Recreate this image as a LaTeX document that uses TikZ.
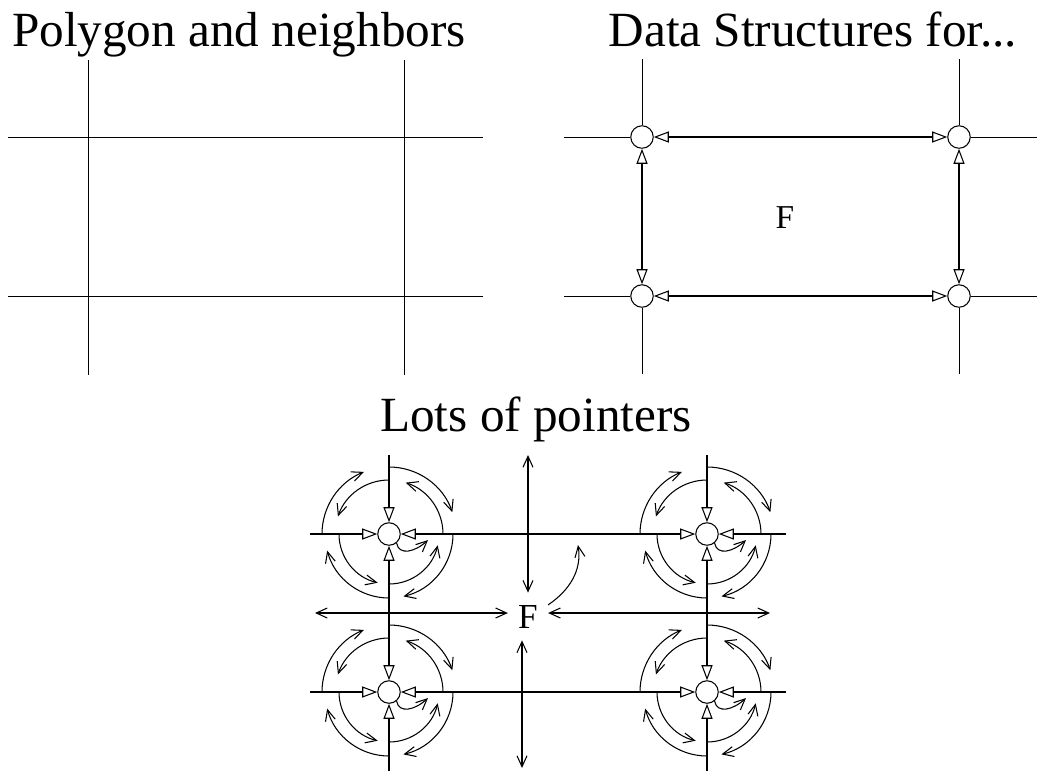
\documentclass[tikz,border=0pt]{standalone}
\usepackage{fontspec}
\setmainfont{Liberation Serif}
\usetikzlibrary{arrows.meta, calc}
\tikzset{
  gridline/.style={line width=0.5pt},
  vtx/.style={circle, draw, fill=white, line width=0.6pt, inner sep=0pt, minimum size=0.45cm},
  edgepair/.style={line width=1.5pt,
    {Triangle[open, length=0.3cm, width=0.22cm, line width=0.6pt]}-{Triangle[open, length=0.3cm, width=0.22cm, line width=0.6pt]}},
  halfedge/.style={line width=0.9pt, -{Triangle[open, length=0.3cm, width=0.22cm, line width=0.6pt]}},
  ptr/.style={line width=0.6pt, -{Straight Barb[length=0.22cm, width=0.2cm]}},
  dblptr/.style={line width=0.6pt, {Straight Barb[length=0.22cm, width=0.2cm]}-{Straight Barb[length=0.22cm, width=0.2cm]}},
  title/.style={anchor=base, font=\fontsize{28}{34}\selectfont},
}

\begin{document}
\begin{tikzpicture}[x=0.02cm, y=0.02cm]
  \useasboundingbox (0,0) rectangle (1037,-772);

  % titles
  \node[title] (polyTitle) at (239,-46) {Polygon and neighbors};
  \node[title] (dsTitle) at (813,-46) {Data Structures for...};
  \node[title] (lpTitle) at (536,-431) {Lots of pointers};

  % polygon and neighbors
  \foreach \x in {88,404} \draw[gridline] (\x,-60) -- (\x,-375);
  \foreach \y in {137,296} \draw[gridline] (8,-\y) -- (483,-\y);

  % data structures
  \node[vtx] (dsNW) at (642,-137) {};
  \node[vtx] (dsNE) at (959,-137) {};
  \node[vtx] (dsSW) at (642,-296) {};
  \node[vtx] (dsSE) at (959,-296) {};
  \foreach \v/\dx/\dy in {dsNW/-78/0, dsNW/0/78, dsNE/78/0, dsNE/0/78,
                          dsSW/-78/0, dsSW/0/-78, dsSE/78/0, dsSE/0/-78}
    \draw[gridline] ($(\v)+(\dx,\dy)$) -- (\v);
  \draw[edgepair] (dsNW) -- (dsNE);
  \draw[edgepair] (dsSW) -- (dsSE);
  \draw[edgepair] (dsNW) -- (dsSW);
  \draw[edgepair] (dsNE) -- (dsSE);
  \node[font=\fontsize{19}{22}\selectfont] (dsF) at (785,-218) {F};

  % lots of pointers
  \node[vtx] (lpNW) at (389,-534) {};
  \node[vtx] (lpNE) at (707,-534) {};
  \node[vtx] (lpSW) at (389,-692) {};
  \node[vtx] (lpSE) at (707,-692) {};
  \foreach \v/\dx/\dy in {lpNW/-79/0, lpNW/0/79, lpNE/79/0, lpNE/0/79,
                          lpSW/-79/0, lpSW/0/-79, lpSE/79/0, lpSE/0/-79}
    \draw[halfedge] ($(\v)+(\dx,\dy)$) -- (\v);
  \draw[edgepair] (lpNW) -- (lpNE);
  \draw[edgepair] (lpSW) -- (lpSE);
  \draw[edgepair] (lpNW) -- (lpSW);
  \draw[edgepair] (lpNE) -- (lpSE);

  % next/prev pointers round every vertex
  \foreach \v in {lpNW,lpNE,lpSW,lpSE}{
    \begin{scope}[shift={(\v)}]
      \foreach \sa/\ea/\rad in {0/72/54, 90/19/67, 90/161/54, 180/112/67,
                                180/257/50, 270/195/64, 270/347/50, 360/283/64}
        \draw[ptr] (\sa:\rad) arc[start angle=\sa, end angle=\ea, radius=\rad];
      \draw[ptr] (\v.-50) .. controls (10,-22) and (26,-18) .. (39,-6);
    \end{scope}
  }

  % face pointers
  \node[inner xsep=0.2cm, inner ysep=0.24cm, font=\fontsize{20}{24}\selectfont] (faceF) at (528,-616.5) {F};
  \coordinate (lpFaceW) at (315,-613);
  \coordinate (lpFaceE) at (770,-613);
  \coordinate (lpFaceN) at (528,-455);
  \coordinate (lpFaceS) at (522,-768);
  \coordinate (lpEdgeHit) at (578,-545);
  \draw[dblptr] (lpFaceW) -- (lpFaceW -| faceF.west);
  \draw[dblptr] (lpFaceE) -- (lpFaceE -| faceF.east);
  \draw[dblptr] (lpFaceN) -- (lpFaceN |- faceF.north);
  \draw[dblptr] (lpFaceS) -- (lpFaceS |- faceF.south);
  \draw[ptr] (faceF.30) .. controls (570,-590) and (582,-570) .. (lpEdgeHit);
\end{tikzpicture}
\end{document}
